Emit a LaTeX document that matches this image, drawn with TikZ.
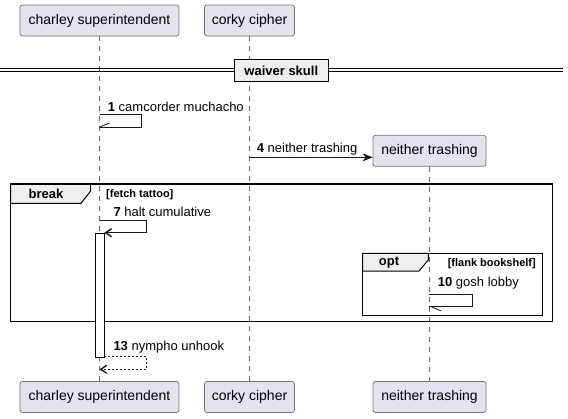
\documentclass[tikz,border=0pt]{standalone}
\usepackage{fontspec}
\setmainfont{Liberation Sans}
\usetikzlibrary{arrows.meta}
\definecolor{partfill}{HTML}{E2E2F0}
\definecolor{tabfill}{HTML}{EEEEEE}
\begin{document}
\begin{tikzpicture}[x=1pt,y=-1pt,
 part/.style={draw=black!55, fill=partfill, rounded corners=2.5pt, line width=0.7pt, minimum height=31pt, inner sep=0pt, font=\fontsize{14}{16}\selectfont},
 life/.style={draw=black!60, line width=0.6pt, dash pattern=on 5pt off 5pt},
 msg/.style={draw=black!90, line width=0.8pt},
 lbl/.style={anchor=west, inner sep=0pt, font=\fontsize{13}{15}\selectfont},
 guard/.style={inner sep=0pt, font=\fontsize{11}{13}\selectfont\bfseries},
 tabtext/.style={inner sep=0pt, font=\fontsize{13}{15}\selectfont\bfseries},
 frame/.style={draw=black, line width=1.5pt},
 tab/.style={draw=black, fill=tabfill, line width=1pt},
 filled/.style={-{Stealth[length=10pt,width=8pt,inset=3pt]}},
 open/.style={-{Straight Barb[length=6pt,width=8pt,line width=1.4pt]}},
]
\useasboundingbox (0,0) rectangle (568,418);

% participants
\node[part, minimum width=159pt] (ch) at (99.5,20.5) {charley superintendent};
\node[part, minimum width=90pt] (cc) at (249.5,20.5) {corky cipher};
\node[part, minimum width=113pt] (nt) at (429.5,150.8) {neither trashing};
\node[part, minimum width=159pt] (chb) at (99.5,397) {charley superintendent};
\node[part, minimum width=90pt] (ccb) at (249.5,397) {corky cipher};
\node[part, minimum width=113pt] (ntb) at (429.5,397) {neither trashing};

% lifelines
\draw[life] (ch.south) -- (chb.north);
\draw[life] (cc.south) -- (ccb.north);
\draw[life] (nt.south) -- (ntb.north);

% divider
\coordinate (dl1) at (0,68.3); \coordinate (dr1) at (563,68.3);
\coordinate (dl2) at (0,71.7); \coordinate (dr2) at (563,71.7);
\draw[line width=1pt] (dl1) -- (dr1);
\draw[line width=1pt] (dl2) -- (dr2);
\node[draw, line width=1.5pt, fill=tabfill, minimum width=94pt, minimum height=22pt, tabtext] (div) at (281.3,70.5) {waiver skull};

% message 1
\coordinate (m1s) at (99.5,114.3);
\coordinate (m1e) at (99.5,127);
\draw[msg] (m1s) -- (141.7,114.3) |- (m1e);
\draw[msg] (m1e) -- ++(10,-4);
\node[lbl] (l1) at (107.7,106.7) {\textbf{1} camcorder muchacho};

% message 4
\coordinate (m4s) at (249.3,157.3);
\draw[msg, filled] (m4s) -- (m4s -| nt.west);
\node[lbl] (l4) at (256.7,149) {\textbf{4} neither trashing};

% break frame
\draw[tab] (10.7,184) -- (90.7,184) -- (90.7,191) -- (81,203.3) -- (10.7,203.3) -- cycle;
\draw[frame] (10.7,184) rectangle (552.3,321.5);
\node[tabtext] (brk) at (46,194) {break};
\node[guard, anchor=west] (g1) at (106,194.3) {[fetch tattoo]};

% activation
\node[draw=black, fill=white, line width=0.8pt, minimum width=9.3pt, minimum height=124pt, inner sep=0pt] (act) at (99.65,295.3) {};

% message 7
\coordinate (m7s) at (99.5,220.7);
\coordinate (m7e) at (104.3,232.7);
\draw[msg, open] (m7s) -- (146.7,220.7) |- (m7e);
\node[lbl] (l7) at (113.3,212.3) {\textbf{7} halt cumulative};

% opt frame
\draw[tab] (362.7,253.3) -- (428.3,253.3) -- (428.3,260) -- (419,271) -- (362.7,271) -- cycle;
\draw[frame] (362.7,253.3) rectangle (542.7,315.7);
\node[tabtext] (opt) at (389,263) {opt};
\node[guard, anchor=east] (g2) at (536,263.5) {[flank bookshelf]};

% message 10
\coordinate (m10s) at (429.3,294.3);
\coordinate (m10e) at (429.3,306);
\draw[msg] (m10s) -- (472.7,294.3) |- (m10e);
\draw[msg] (m10e) -- ++(12,5);
\node[lbl] (l10) at (437.7,283.3) {\textbf{10} gosh lobby};

% message 13
\coordinate (m13s) at (104.3,356.7);
\coordinate (m13e) at (99.5,369.3);
\draw[msg, open, dash pattern=on 2pt off 2pt] (m13s) -- (146.7,356.7) |- (m13e);
\node[lbl] (l13) at (113.3,347.3) {\textbf{13} nympho unhook};
\end{tikzpicture}
\end{document}
